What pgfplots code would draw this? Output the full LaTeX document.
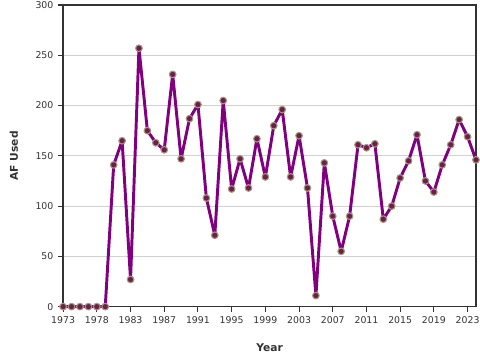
\documentclass[border=0pt]{standalone}
\usepackage{pgfplots}
\pgfplotsset{compat=1.18}
\usepackage{fontspec}
\setmainfont{DejaVu Sans}
\definecolor{linep}{HTML}{800080}
\definecolor{mfill}{HTML}{6E1E4A}
\definecolor{medge}{HTML}{A39A7E}
\definecolor{axc}{HTML}{333333}
\begin{document}
\begin{tikzpicture}
\begin{axis}[
  width=309pt, height=225.75pt, scale only axis,
  xmin=0, xmax=49, ymin=0, ymax=300,
  xtick={0,4,...,48},
  xticklabels={1973,1978,1983,1987,1991,1995,1999,2003,2007,2011,2015,2019,2023},
  ytick={0,50,...,300},
  tick align=outside, tick pos=left, major tick length=3.75pt,
  ymajorgrids, grid style={black!18, line width=0.5pt},
  axis line style={draw=axc, line width=1pt},
  tick style={axc, line width=0.8pt},
  ticklabel style={font=\fontsize{7}{8}\selectfont, text=axc},
  /pgf/number format/assume math mode=true,
  xlabel={Year}, ylabel={AF Used},
  label style={font=\bfseries\fontsize{8}{9}\selectfont, text=axc},
  xlabel style={at={(axis description cs:0.5,-0.136)}, anchor=center},
  ylabel style={at={(axis description cs:-0.119,0.5)}, anchor=center},
  clip=false,
]
\addplot[linep, line width=2.2pt, line join=round, mark=*, mark size=2.5pt,
  mark options={fill=mfill, draw=medge, line width=0.8pt}]
  coordinates {
  (0,0) (1,0) (2,0) (3,0) (4,0) (5,0) (6,141) (7,165) (8,27) (9,257)
  (10,175) (11,163) (12,156) (13,231) (14,147) (15,187) (16,201) (17,108) (18,71) (19,205)
  (20,117) (21,147) (22,118) (23,167) (24,129) (25,180) (26,196) (27,129) (28,170) (29,118)
  (30,11) (31,143) (32,90) (33,55) (34,90) (35,161) (36,158) (37,162) (38,87) (39,100)
  (40,128) (41,145) (42,171) (43,125) (44,114) (45,141) (46,161) (47,186) (48,169) (49,146)
  };
\end{axis}
\pgfresetboundingbox
\path ([xshift=-47.25pt,yshift=-40.5pt]current axis.south west) rectangle ([xshift=3pt,yshift=3.75pt]current axis.north east);
\end{tikzpicture}
\end{document}
